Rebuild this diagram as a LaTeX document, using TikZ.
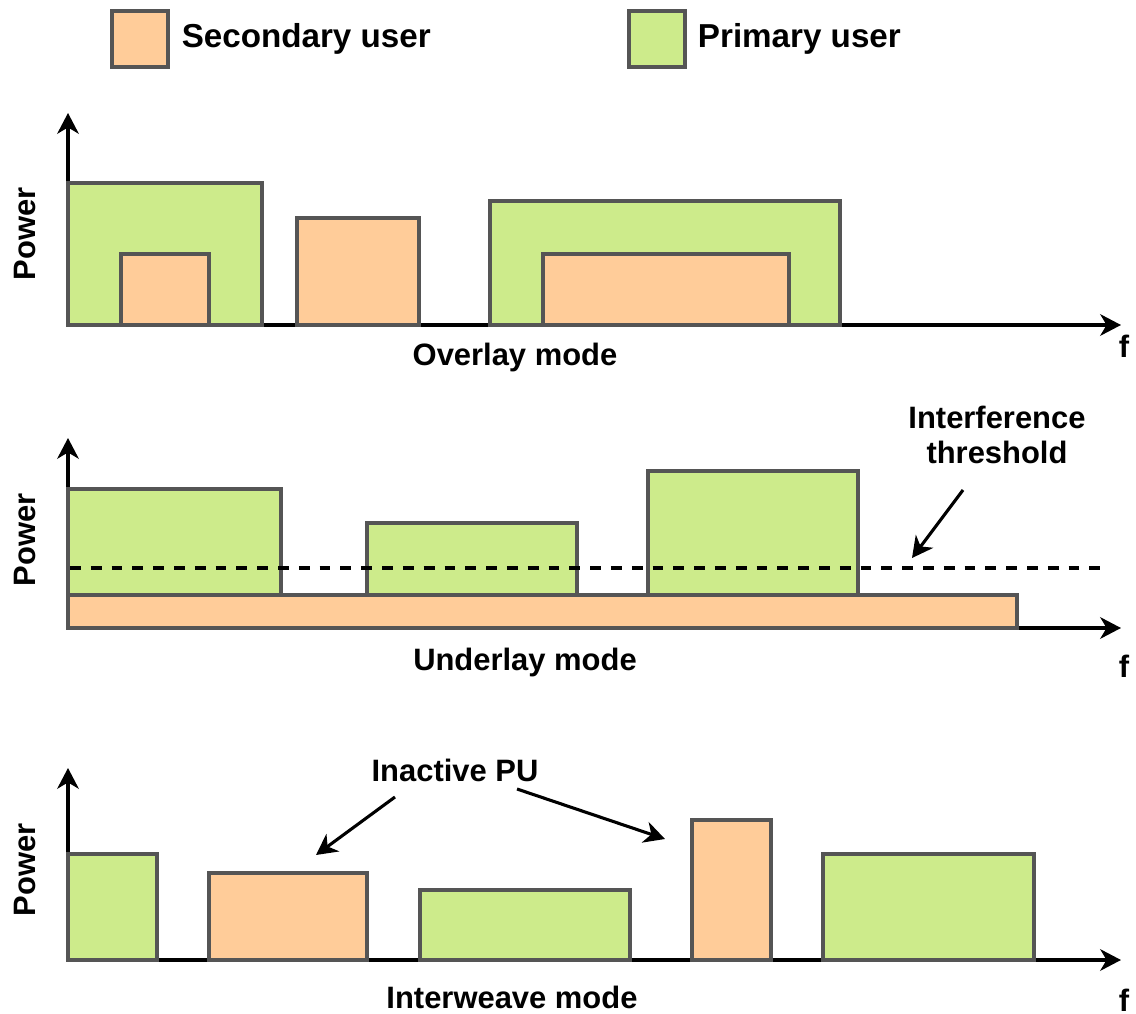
\documentclass[tikz,border=0pt]{standalone}
\usepackage{fontspec}
\setmainfont{Liberation Sans}
\usetikzlibrary{arrows.meta, positioning}
\definecolor{puGreen}{HTML}{CDEB8B}
\definecolor{suOrange}{HTML}{FFCC99}
\definecolor{edgeGray}{HTML}{555555}
\tikzset{
    pu/.style={draw=edgeGray, fill=puGreen, line width=1.1pt},
    su/.style={draw=edgeGray, fill=suOrange, line width=1.1pt},
    axis/.style={-{Stealth[length=2.6mm, width=2.7mm, inset=0.8mm]}, line width=1.1pt},
    callout/.style={-{Stealth[length=2.6mm, width=2.7mm, inset=0.8mm]}, line width=1.1pt},
    lbl/.style={font=\bfseries\fontsize{11}{12.5}\selectfont, inner sep=1pt},
    leglbl/.style={font=\bfseries\fontsize{11.8}{13}\selectfont, inner sep=1pt},
    ylbl/.style={lbl, rotate=90},
    threshold/.style={dash pattern=on 1.35mm off 1.25mm, line width=1.2pt},
}

\begin{document}
\begin{tikzpicture}[x=0.0125cm, y=-0.0125cm]
    \useasboundingbox (0,0) rectangle (1136,1014);

    % legend
    \node[su, minimum size=0.69cm, inner sep=0pt, line width=1.4pt] (legsu) at (140,39) {};
    \node[leglbl, right=0.11cm of legsu] (legsutext) {Secondary user};
    \node[pu, minimum size=0.69cm, inner sep=0pt, line width=1.4pt] (legpu) at (657,39) {};
    \node[leglbl, right=0.1cm of legpu] (legputext) {Primary user};

    % overlay mode
    \coordinate (o1) at (68,325);
    \coordinate (y1) at (68,113);
    \coordinate (x1) at (1121,325);
    \draw[axis] (o1) -- (y1);
    \draw[axis] (o1) -- (x1);
    \draw[pu] (68,325) rectangle (262,183);
    \draw[su] (121,325) rectangle (209,254);
    \draw[su] (297,325) rectangle (419,218);
    \draw[pu] (490,325) rectangle (840,201);
    \draw[su] (543,325) rectangle (789,254);
    \node[ylbl] (pow1) at (25,234) {Power};
    \node[lbl] (f1) at (1124,346) {f};
    \node[lbl] (mode1) at (515,358) {Overlay mode};

    % underlay mode
    \coordinate (o2) at (68,628);
    \coordinate (y2) at (68,438);
    \coordinate (x2) at (1121,628);
    \draw[axis] (o2) -- (y2);
    \draw[axis] (o2) -- (x2);
    \draw[su] (68,628) rectangle (1017,595);
    \draw[pu] (68,595) rectangle (281,489);
    \draw[pu] (367,595) rectangle (577,523);
    \draw[pu] (648,595) rectangle (858,471);
    \coordinate (th0) at (70,568);
    \coordinate (th1) at (1105,568);
    \draw[threshold] (th0) -- (th1);
    \node[ylbl] (pow2) at (25,540) {Power};
    \node[lbl] (f2) at (1124,666) {f};
    \node[lbl] (mode2) at (525,663) {Underlay mode};
    \node[lbl, align=center] (thtext) at (997,435) {Interference\\threshold};
    \coordinate (thtip) at (912,558);
    \draw[callout] (963,490) -- (thtip);

    % interweave mode
    \coordinate (o3) at (68,960);
    \coordinate (y3) at (68,768);
    \coordinate (x3) at (1121,960);
    \draw[axis] (o3) -- (y3);
    \draw[axis] (o3) -- (x3);
    \draw[pu] (68,960) rectangle (157,854);
    \draw[su] (209,960) rectangle (367,873);
    \draw[pu] (420,960) rectangle (630,890);
    \draw[su] (692,960) rectangle (771,820);
    \draw[pu] (823,960) rectangle (1034,854);
    \node[ylbl] (pow3) at (25,870) {Power};
    \node[lbl] (f3) at (1124,1000) {f};
    \node[lbl] (mode3) at (512,997) {Interweave mode};
    \node[lbl] (inactive) at (455,770) {Inactive PU};
    \coordinate (tipa) at (316,855);
    \coordinate (tipb) at (665,839);
    \draw[callout] (395,797) -- (tipa);
    \draw[callout] (517,789) -- (tipb);
\end{tikzpicture}
\end{document}
